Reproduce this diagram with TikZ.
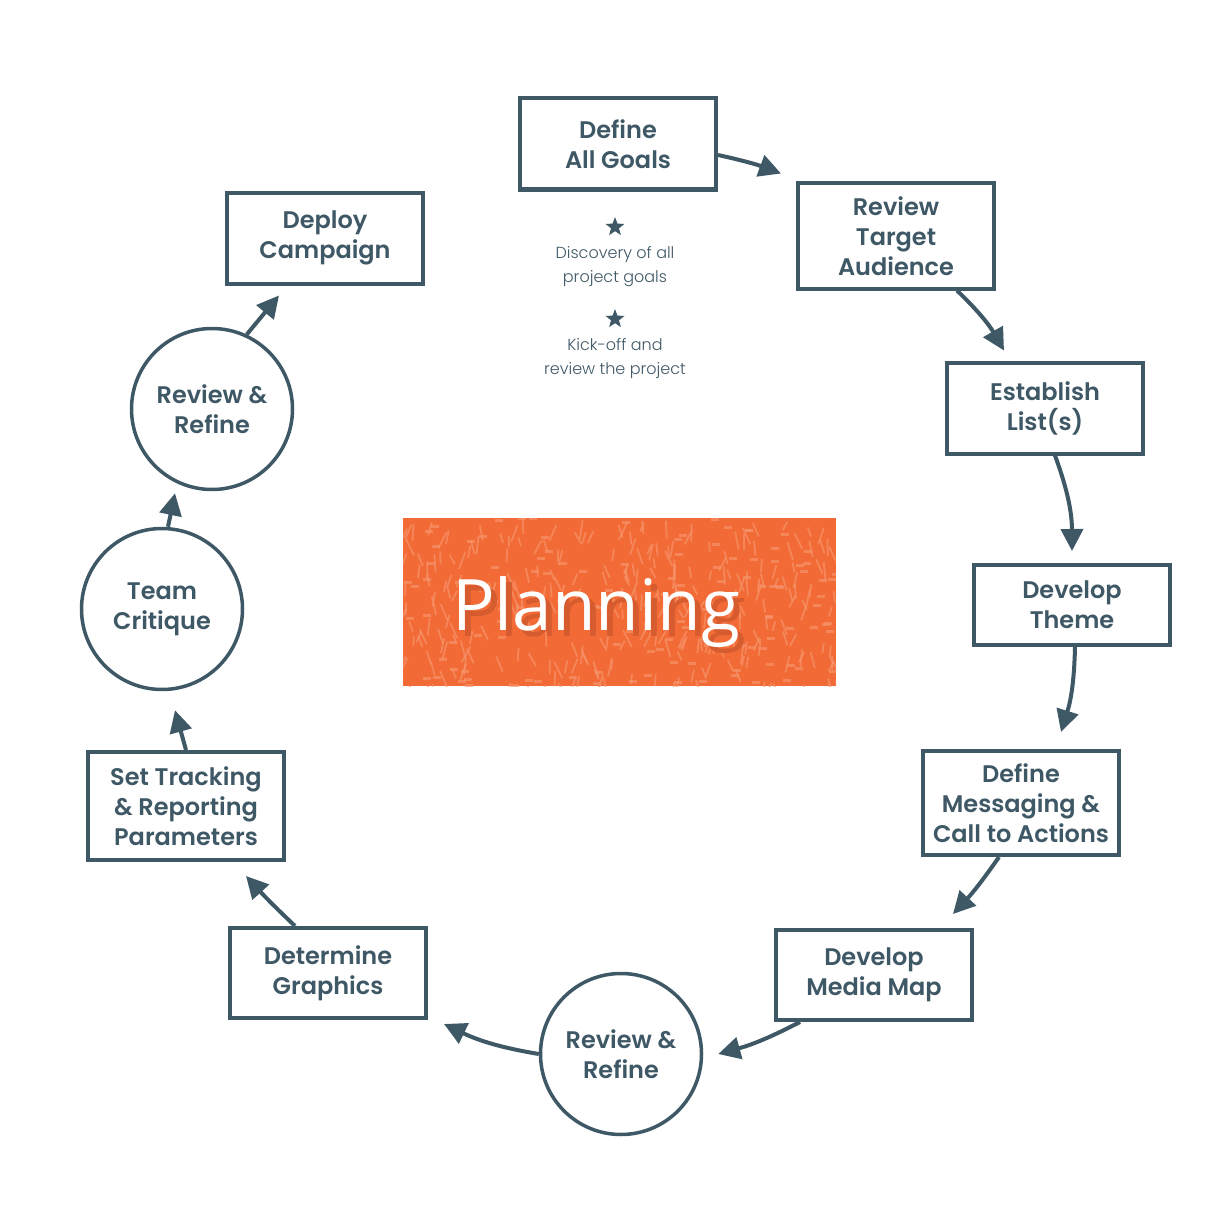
\documentclass[tikz,border=0pt]{standalone}
\usepackage{fontspec}
\setmainfont{Poppins}[BoldFont={Poppins SemiBold}]
\newfontfamily\lightfont{Poppins Light}
\newfontfamily\planfont{Open Sans}
\usetikzlibrary{arrows.meta,calc,shapes.geometric}
\definecolor{slate}{HTML}{3F5866}
\definecolor{orng}{HTML}{F26A35}
\definecolor{orngl}{HTML}{F7936A}
\definecolor{orngd}{HTML}{D65C30}
\begin{document}
\begin{tikzpicture}[x=1pt,y=-1pt,
  box/.style={draw=slate,line width=4pt,minimum width=196pt,inner sep=0pt,align=center,
    font=\bfseries\fontsize{24}{30}\selectfont,text=slate},
  circ/.style={circle,draw=slate,line width=3.5pt,minimum size=161pt,inner sep=0pt,align=center,
    font=\bfseries\fontsize{24}{30}\selectfont,text=slate},
  arr/.style={draw=slate,line width=4pt,-{Triangle[length=22pt,width=22pt]}},
  note/.style={font=\lightfont\fontsize{16}{24}\selectfont,text=slate,align=center,inner sep=0pt},
  starnode/.style={star,star points=5,star point ratio=2.4,fill=slate,minimum size=20pt,inner sep=0pt},
]
\useasboundingbox (0,0) rectangle (1224,1220);
\fill[white] (0,0) rectangle (1224,1220);

% Planning box
\node[fill=orng,minimum width=433pt,minimum height=168pt,inner sep=0pt] (plan) at (619.5,602) {};
\begin{scope}
  \clip (403,518) rectangle (836,686);
  \pgfmathsetseed{42}
  \foreach \i in {1,...,300}{
    \pgfmathsetmacro{\px}{403+rnd*433}
    \pgfmathsetmacro{\py}{518+rnd*168}
    \pgfmathsetmacro{\pa}{60+rnd*60}
    \pgfmathsetmacro{\pl}{9+rnd*10}
    \draw[orngl,opacity=0.7,line width=1.8pt] (\px,\py) -- ++(\pa:\pl);
  }
  \foreach \i in {1,...,120}{
    \pgfmathsetmacro{\px}{403+rnd*433}
    \pgfmathsetmacro{\py}{518+rnd*168}
    \draw[orngl,opacity=0.7,line width=3pt] (\px,\py) -- ++(8,0);
  }
\end{scope}
\node[text=white,anchor=base,inner sep=0pt,font=\planfont\fontsize{71}{80}\selectfont] (plantext) at (596,630)
  {\makebox[0pt][l]{\hspace{6pt}\raisebox{-6pt}{\textcolor{orngd}{Planning}}}Planning};

% Boxes
\node[box,minimum height=91pt] (goals) at (618,144) {Define\\All Goals};
\node[box,minimum height=105pt] (audience) at (896,236) {Review\\Target\\Audience};
\node[box,minimum height=91pt] (lists) at (1045,408) {Establish\\List(s)};
\node[box,minimum height=80pt] (theme) at (1072,605) {Develop\\Theme};
\node[box,minimum height=104pt] (messaging) at (1021,803) {Define\\Messaging \&\\Call to Actions};
\node[box,minimum height=90pt] (mediamap) at (874,975) {Develop\\Media Map};
\node[circ] (refine2) at (621,1054) {Review \&\\Refine};
\node[box,minimum height=90pt] (graphics) at (328,973) {Determine\\Graphics};
\node[box,minimum height=108pt] (tracking) at (186,806) {Set Tracking\\\& Reporting\\Parameters};
\node[circ] (critique) at (162,609) {Team\\Critique};
\node[circ] (refine1) at (212,409) {Review \&\\Refine};
\node[box,minimum height=91pt] (deploy) at (325,238) {Deploy\\Campaign};

% notes
\node[starnode] (star1) at (615,227) {};
\node[note] (note1) at (615,267) {Discovery of all\\project goals};
\node[starnode] (star2) at (615,319) {};
\node[note] (note2) at (615,359) {Kick-off and\\review the project};

% arrow end coordinates
\coordinate (e1) at ([xshift=-15pt,yshift=8pt]audience.north west);
\coordinate (e2) at ([xshift=59pt,yshift=10pt]lists.north west);
\coordinate (e3) at ([yshift=12pt]theme.north);
\coordinate (e4) at ([xshift=40pt,yshift=17pt]messaging.north);
\coordinate (e5) at ([xshift=79pt,yshift=14pt]mediamap.north);
\coordinate (e6) at ([xshift=15pt]refine2.east);
\coordinate (e7) at ([xshift=16pt,yshift=-4pt]graphics.south east);
\coordinate (e8) at ([xshift=-40pt,yshift=-14pt]tracking.south east);
\coordinate (e9) at ([xshift=13pt,yshift=-19pt]critique.south);
\coordinate (e10) at ([xshift=-37pt,yshift=-2pt]refine1.south);
\coordinate (e11) at ([xshift=54pt,yshift=-10pt]deploy.south west);

\draw[arr] ([yshift=-11pt]goals.east) to[bend left=4] (e1);
\draw[arr] ([xshift=61pt]audience.south) to[bend left=8] (e2);
\draw[arr] ([xshift=10pt]lists.south) to[bend left=10] (e3);
\draw[arr] ([xshift=3pt]theme.south) to[bend left=8] (e4);
\draw[arr] ([xshift=-22pt]messaging.south) to[bend left=4] (e5);
\draw[arr] ([xshift=-74pt]mediamap.south) to[bend left=6] (e6);
\draw[arr] (refine2.west) to[bend left=8] (e7);
\draw[arr] ([xshift=-33pt]graphics.north) to[bend left=2] (e8);
\draw[arr] (tracking.north) -- (e9);
\draw[arr] ([xshift=6pt]critique.north) -- (e10);
\draw[arr] (refine1.65) -- (e11);
\end{tikzpicture}
\end{document}
